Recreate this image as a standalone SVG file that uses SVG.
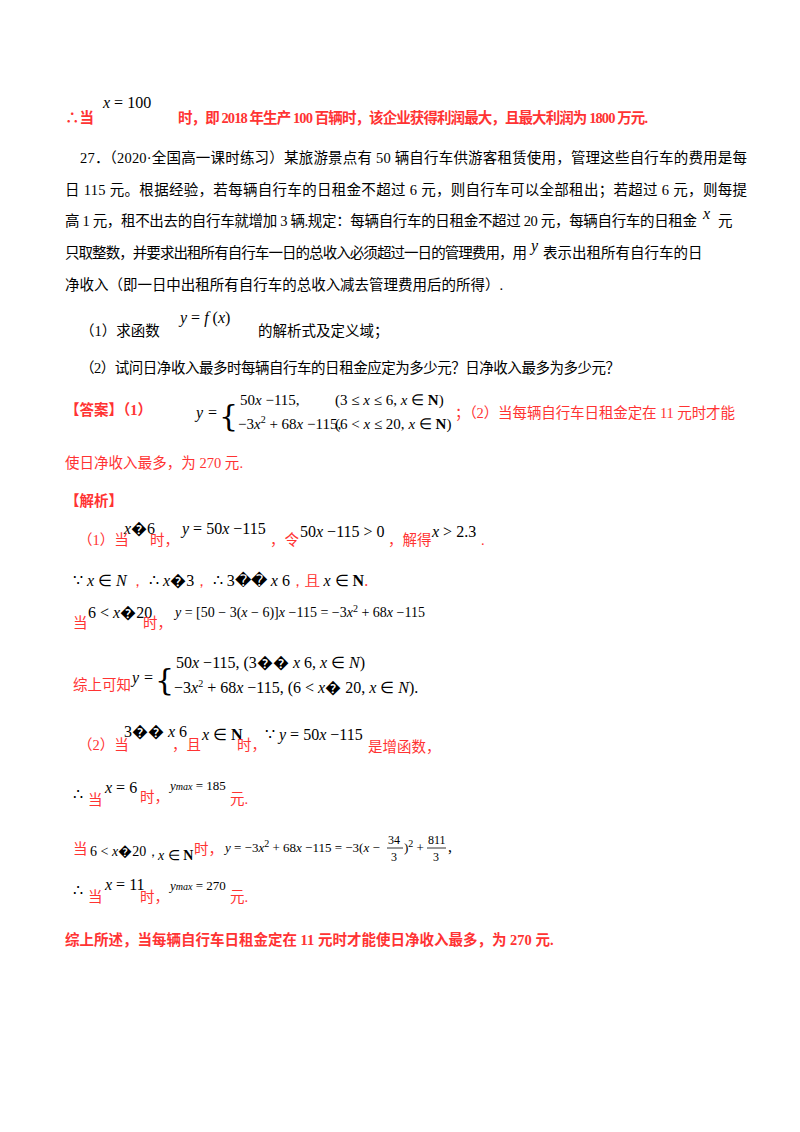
<svg xmlns="http://www.w3.org/2000/svg" width="800" height="1132" viewBox="0 0 800 1132">
<style>
text{font-family:"Liberation Serif","Noto Sans CJK SC",serif;font-size:14.5px;fill:#000}
.r{fill:#ff3333}
.b{font-weight:bold}
.m{font-family:"Liberation Serif",serif;font-size:16px}
.i{font-style:italic}
.s{font-size:10px}
.br{font-family:"DejaVu Serif",serif;font-size:30px;font-weight:100}
</style>
<rect width="800" height="1132" fill="#fff"/>
<text x="65" y="123" class="r b">∴当</text>
<text x="103" y="108" class="m"><tspan class="i">x</tspan> = 100</text>
<text x="178" y="123" class="r b" textLength="470">时，即 2018 年生产 100 百辆时，该企业获得利润最大，且最大利润为 1800 万元.</text>

<text x="80" y="163" textLength="667">27．（2020·全国高一课时练习）某旅游景点有 50 辆自行车供游客租赁使用，管理这些自行车的费用是每</text>
<text x="65" y="195" textLength="682">日 115 元。根据经验，若每辆自行车的日租金不超过 6 元，则自行车可以全部租出；若超过 6 元，则每提</text>
<text x="65" y="226" textLength="632">高 1 元，租不出去的自行车就增加 3 辆.规定：每辆自行车的日租金不超过 20 元，每辆自行车的日租金</text>
<text x="703" y="219" class="m i">x</text><text x="718" y="226">元</text>
<text x="65" y="258" textLength="462">只取整数，并要求出租所有自行车一日的总收入必须超过一日的管理费用，用</text>
<text x="531" y="251" class="m i">y</text><text x="543" y="258">表示出租所有自行车的日</text>
<text x="65" y="290" textLength="438">净收入（即一日中出租所有自行车的总收入减去管理费用后的所得）.</text>
<text x="80" y="336">（1）求函数</text>
<text x="180" y="323" class="m"><tspan class="i">y</tspan> = <tspan class="i">f</tspan> (<tspan class="i">x</tspan>)</text>
<text x="258" y="336">的解析式及定义域；</text>
<text x="80" y="373" textLength="540">（2）试问日净收入最多时每辆自行车的日租金应定为多少元？日净收入最多为多少元？</text>

<text x="65" y="415" class="r b">【答案】（1）</text>
<text x="196" y="418" class="m i">y</text><text x="208" y="418" class="m">=</text>
<text x="219" y="426" class="br">{</text>
<text x="240" y="405" class="m" style="font-size:15px">50<tspan class="i">x</tspan> −115,</text>
<text x="335" y="405" class="m" style="font-size:15px">(3 ≤ <tspan class="i">x</tspan> ≤ 6, <tspan class="i">x</tspan> ∈ <tspan font-weight="bold">N</tspan>)</text>
<text x="238" y="429" class="m" style="font-size:15px">−3<tspan class="i">x</tspan><tspan class="s" dy="-6">2</tspan><tspan dy="6"> + 68</tspan><tspan class="i">x</tspan> −115,</text>
<text x="335" y="429" class="m" style="font-size:15px">(6 &lt; <tspan class="i">x</tspan> ≤ 20, <tspan class="i">x</tspan> ∈ <tspan font-weight="bold">N</tspan>)</text>
<text x="455" y="418" class="r" textLength="280">；（2）当每辆自行车日租金定在 11 元时才能</text>
<text x="65" y="468" class="r" textLength="178">使日净收入最多，为 270 元.</text>
<text x="65" y="506" class="r b">【解析】</text>

<text x="78" y="545" class="r">（1）当</text>
<text x="124" y="534" class="m"><tspan class="i">x</tspan>�6</text>
<text x="150" y="545" class="r">时，</text>
<text x="182" y="534" class="m"><tspan class="i">y</tspan> = 50<tspan class="i">x</tspan> −115</text>
<text x="270" y="545" class="r">，令</text>
<text x="300" y="537" class="m">50<tspan class="i">x</tspan> −115 &gt; 0</text>
<text x="388" y="545" class="r">，解得</text>
<text x="432" y="537" class="m"><tspan class="i">x</tspan> &gt; 2.3</text>
<text x="481" y="545" class="r">.</text>

<text x="73" y="586" class="m">∵ <tspan class="i">x</tspan> ∈ <tspan class="i">N</tspan><tspan class="r" font-size="14.5"> ， </tspan>∴ <tspan class="i">x</tspan>�3<tspan class="r" font-size="14.5">， </tspan>∴ 3�� <tspan class="i">x</tspan>  6<tspan class="r" font-size="14.5">，且 </tspan><tspan class="i">x</tspan> ∈ <tspan font-weight="bold">N</tspan><tspan class="r">.</tspan></text>

<text x="73" y="628" class="r">当</text>
<text x="88" y="618" class="m">6 &lt; <tspan class="i">x</tspan>�20</text>
<text x="143" y="628" class="r">时，</text>
<text x="175" y="617" class="m" style="font-size:14px"><tspan class="i">y</tspan> = [50 − 3(<tspan class="i">x</tspan> − 6)]<tspan class="i">x</tspan> −115 = −3<tspan class="i">x</tspan><tspan class="s" dy="-5">2</tspan><tspan dy="5"> + 68</tspan><tspan class="i">x</tspan> −115</text>

<text x="73" y="690" class="r">综上可知</text>
<text x="132" y="683" class="m i">y</text><text x="144" y="683" class="m">=</text>
<text x="155" y="690" class="br">{</text>
<text x="176" y="668" class="m">50<tspan class="i">x</tspan> −115, (3�� <tspan class="i">x</tspan>   6, <tspan class="i">x</tspan> ∈ <tspan class="i">N</tspan>)</text>
<text x="174" y="693" class="m">−3<tspan class="i">x</tspan><tspan class="s" dy="-6">2</tspan><tspan dy="6"> + 68</tspan><tspan class="i">x</tspan> −115, (6 &lt; <tspan class="i">x</tspan>� 20, <tspan class="i">x</tspan> ∈ <tspan class="i">N</tspan>).</text>

<text x="78" y="750" class="r">（2）当</text>
<text x="124" y="737" class="m">3�� <tspan class="i">x</tspan>   6</text>
<text x="172" y="750" class="r">，且</text>
<text x="202" y="740" class="m"><tspan class="i">x</tspan> ∈ <tspan font-weight="bold">N</tspan></text>
<text x="237" y="750" class="r">时，</text>
<text x="265" y="740" class="m">∵ <tspan class="i">y</tspan> = 50<tspan class="i">x</tspan> −115</text>
<text x="368" y="752" class="r">是增函数，</text>

<text x="73" y="800" class="m">∴</text>
<text x="88" y="805" class="r">当</text>
<text x="105" y="793" class="m"><tspan class="i">x</tspan> = 6</text>
<text x="140" y="802" class="r">时，</text>
<text x="170" y="790" class="m" style="font-size:13px"><tspan class="i">y</tspan><tspan class="s i">max</tspan> = 185</text>
<text x="230" y="804" class="r">元.</text>

<text x="73" y="854" class="r">当</text>
<text x="90" y="856" class="m" style="font-size:14px">6 &lt; <tspan class="i">x</tspan>�20，</text>
<text x="158" y="860" class="m" style="font-size:14px"><tspan class="i">x</tspan> ∈ <tspan font-weight="bold">N</tspan></text>
<text x="194" y="854" class="r">时，</text>
<text x="225" y="852" class="m" style="font-size:13px"><tspan class="i">y</tspan> = −3<tspan class="i">x</tspan><tspan class="s" dy="-5">2</tspan><tspan dy="5"> + 68</tspan><tspan class="i">x</tspan> −115 = −3(<tspan class="i">x</tspan> −</text>
<text x="388" y="844" class="m" style="font-size:12px">34</text><line x1="387" y1="848" x2="403" y2="848" stroke="#000" stroke-width="0.8"/><text x="391" y="861" class="m" style="font-size:12px">3</text>
<text x="404" y="852" class="m" style="font-size:13px">)<tspan class="s" dy="-5">2</tspan><tspan dy="5"> +</tspan></text>
<text x="428" y="844" class="m" style="font-size:12px">811</text><line x1="427" y1="848" x2="446" y2="848" stroke="#000" stroke-width="0.8"/><text x="433" y="861" class="m" style="font-size:12px">3</text>
<text x="448" y="852" class="m">,</text>

<text x="73" y="896" class="m">∴</text>
<text x="88" y="902" class="r">当</text>
<text x="105" y="890" class="m"><tspan class="i">x</tspan> = 11</text>
<text x="140" y="902" class="r">时，</text>
<text x="170" y="890" class="m" style="font-size:13px"><tspan class="i">y</tspan><tspan class="s i">max</tspan> = 270</text>
<text x="230" y="902" class="r">元.</text>

<text x="65" y="945" class="r b">综上所述，当每辆自行车日租金定在 11 元时才能使日净收入最多，为 270 元.</text>
</svg>
